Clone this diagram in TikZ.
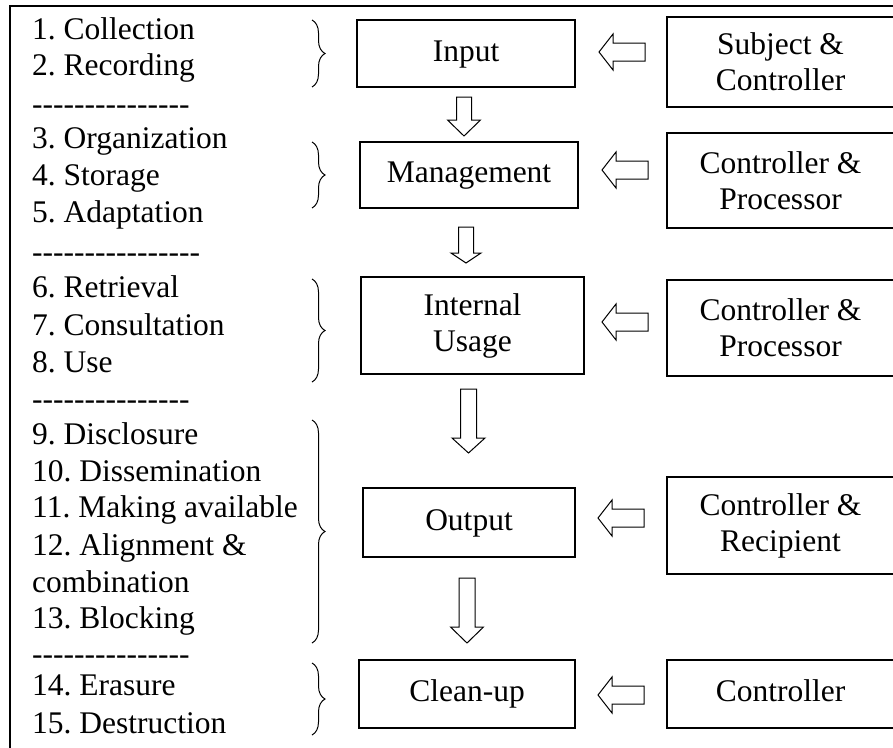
\documentclass[tikz,border=0pt]{standalone}
\usepackage{fontspec}
\setmainfont{Liberation Serif}
\usetikzlibrary{decorations.pathreplacing}

\newcommand{\dashrow}[1]{\foreach \k in {1,...,#1}{-\kern0pt}}

\begin{document}
\frenchspacing
\begin{tikzpicture}[x=1pt,y=-1pt,
  every node/.style={font=\fontsize{31.5}{36}\selectfont},
  item/.style={anchor=base west,inner sep=0pt},
  stagebox/.style={draw,line width=1.2pt,inner sep=0pt,align=center},
  onebox/.style={stagebox,text height=22pt,text depth=7pt},
  rolebox/.style={stagebox,minimum width=227pt},
  blockarrow/.style={draw,line width=1pt,line join=miter},
  curly/.style={decorate,decoration={brace,amplitude=13pt},line width=1pt}]
  \useasboundingbox (0,0) rectangle (893,747);
  \draw[line width=1.8pt] (10,6) rectangle (900,760);

  % list of operations
  \foreach \y/\t [count=\i] in {39/1. Collection, 75/2. Recording,
      148/3. Organization, 185/4. Storage, 222/5. Adaptation,
      297/6. Retrieval, 335/7. Consultation, 372/8. Use,
      444/9. Disclosure, 481/10. Dissemination, 517/11. Making available,
      555/12. Alignment \&, 592/combination, 628/13. Blocking,
      695/14. Erasure, 733/15. Destruction}
    \node[item] (op\i) at (32,\y) {\t};
  \node[item] (sep1) at (32,114) {\dashrow{15}};
  \node[item] (sep2) at (32,262) {\dashrow{16}};
  \node[item] (sep3) at (32,409) {\dashrow{15}};
  \node[item] (sep4) at (32,664) {\dashrow{15}};

  \draw[curly] (312,20) -- (312,87);
  \draw[curly] (312,142) -- (312,208);
  \draw[curly] (312,279) -- (312,382);
  \draw[curly] (312,420) -- (312,643);
  \draw[curly] (312,663) -- (312,735);

  % stages
  \node[onebox,minimum width=218pt,minimum height=67pt] (input) at (466,53.5) {Input};
  \node[onebox,minimum width=218pt,minimum height=66pt] (manage) at (469,175) {Management};
  \node[stagebox,minimum width=223pt,minimum height=97pt] (usage) at (472.5,325.5) {Internal\\Usage};
  \node[onebox,minimum width=212pt,minimum height=69pt] (output) at (469,522.5) {Output};
  \node[onebox,minimum width=216pt,minimum height=68pt] (cleanup) at (467,694) {Clean-up};

  % actors
  \node[rolebox,minimum height=90pt] (subj) at (780.5,62) {Subject \&\\Controller};
  \node[rolebox,minimum height=95pt] (proc1) at (780.5,180.5) {Controller \&\\Processor};
  \node[rolebox,minimum height=96pt] (proc2) at (780.5,328) {Controller \&\\Processor};
  \node[rolebox,minimum height=97pt] (recip) at (780.5,525.5) {Controller \&\\Recipient};
  \node[rolebox,text height=22pt,text depth=7pt,minimum height=68pt] (ctrl) at (780.5,694) {Controller};

  % block arrows: tip, then head and shaft
  \foreach \x/\y in {599/52, 602/170, 602/322, 598/518, 598/695}
    \draw[blockarrow] (\x,\y) -- ++(14,-18) -- ++(0,9) -- ++(32,0) -- ++(0,18)
      -- ++(-32,0) -- ++(0,9) -- cycle;
  \foreach \x/\y/\l/\t/\h/\s in {464/136/16/39/16.5/7.5, 466/263/10/36/15/7.5,
      468.5/453/15/64/16.5/8, 467/643/16/65/16.5/8}
    \draw[blockarrow] (\x,\y) -- ++(-\h,-\l) -- ++(\h-\s,0) -- ++(0,\l-\t)
      -- ++(2*\s,0) -- ++(0,\t-\l) -- ++(\h-\s,0) -- cycle;
\end{tikzpicture}
\end{document}
